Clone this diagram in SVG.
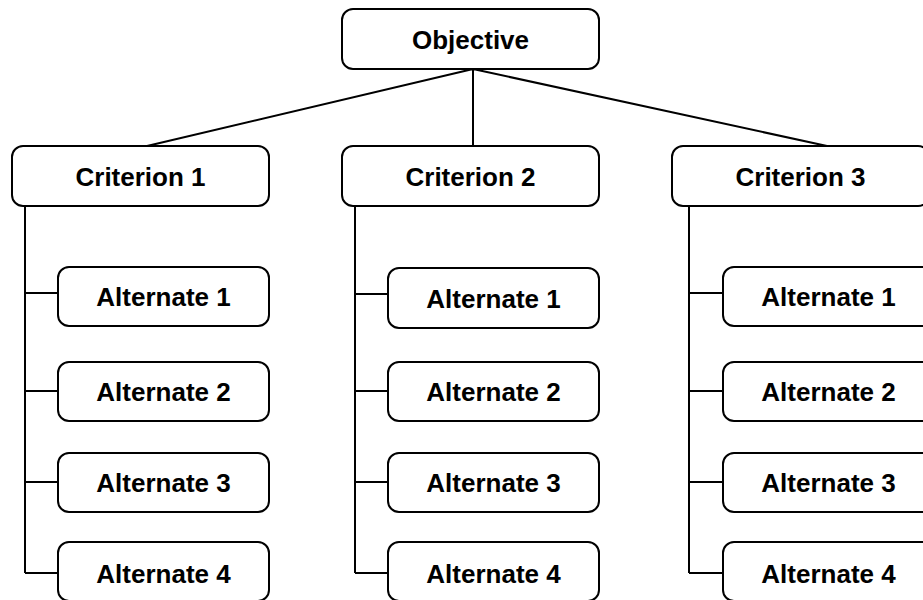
<svg xmlns="http://www.w3.org/2000/svg" width="923" height="600" viewBox="0 0 923 600">
<style>
.box{fill:#fff;stroke:#000;stroke-width:2}
.lbl{font-family:"Liberation Sans",Arial,sans-serif;font-weight:bold;font-size:26px;fill:#000;text-anchor:middle}
.con{fill:none;stroke:#000;stroke-width:2}
</style>
<rect width="923" height="600" fill="#fff"/>
<g id="connectors">
<path class="con" d="M473,69 L147,146 M473,69 L473,146 M473,69 L827,146"/>
<path class="con" d="M25,206 V573 M25,293 H58 M25,391 H58 M25,482 H58 M25,573 H58"/>
<path class="con" d="M355,206 V573 M355,294 H388 M355,391 H388 M355,482 H388 M355,573 H388"/>
<path class="con" d="M689,206 V573 M689,293 H723 M689,391 H723 M689,482 H723 M689,573 H723"/>
</g>
<g id="objective"><rect class="box" x="342" y="9" width="257" height="60" rx="11"/><text class="lbl" x="470.5" y="49">Objective</text></g>
<g id="criterion1"><rect class="box" x="12" y="146" width="257" height="60" rx="11"/><text class="lbl" x="140.5" y="186">Criterion 1</text></g>
<g id="criterion2"><rect class="box" x="342" y="146" width="257" height="60" rx="11"/><text class="lbl" x="470.5" y="186">Criterion 2</text></g>
<g id="criterion3"><rect class="box" x="672" y="146" width="257" height="60" rx="11"/><text class="lbl" x="800.5" y="186">Criterion 3</text></g>
<g id="c1a1"><rect class="box" x="58" y="267" width="211" height="59" rx="11"/><text class="lbl" x="163.5" y="306">Alternate 1</text></g>
<g id="c1a2"><rect class="box" x="58" y="362" width="211" height="59" rx="11"/><text class="lbl" x="163.5" y="401">Alternate 2</text></g>
<g id="c1a3"><rect class="box" x="58" y="453" width="211" height="59" rx="11"/><text class="lbl" x="163.5" y="492">Alternate 3</text></g>
<g id="c1a4"><rect class="box" x="58" y="542" width="211" height="59" rx="11"/><text class="lbl" x="163.5" y="583">Alternate 4</text></g>
<g id="c2a1"><rect class="box" x="388" y="268" width="211" height="60" rx="11"/><text class="lbl" x="493.5" y="308">Alternate 1</text></g>
<g id="c2a2"><rect class="box" x="388" y="362" width="211" height="59" rx="11"/><text class="lbl" x="493.5" y="401">Alternate 2</text></g>
<g id="c2a3"><rect class="box" x="388" y="453" width="211" height="59" rx="11"/><text class="lbl" x="493.5" y="492">Alternate 3</text></g>
<g id="c2a4"><rect class="box" x="388" y="542" width="211" height="59" rx="11"/><text class="lbl" x="493.5" y="583">Alternate 4</text></g>
<g id="c3a1"><rect class="box" x="723" y="267" width="211" height="59" rx="11"/><text class="lbl" x="828.5" y="306">Alternate 1</text></g>
<g id="c3a2"><rect class="box" x="723" y="362" width="211" height="59" rx="11"/><text class="lbl" x="828.5" y="401">Alternate 2</text></g>
<g id="c3a3"><rect class="box" x="723" y="453" width="211" height="59" rx="11"/><text class="lbl" x="828.5" y="492">Alternate 3</text></g>
<g id="c3a4"><rect class="box" x="723" y="542" width="211" height="59" rx="11"/><text class="lbl" x="828.5" y="583">Alternate 4</text></g>
</svg>
